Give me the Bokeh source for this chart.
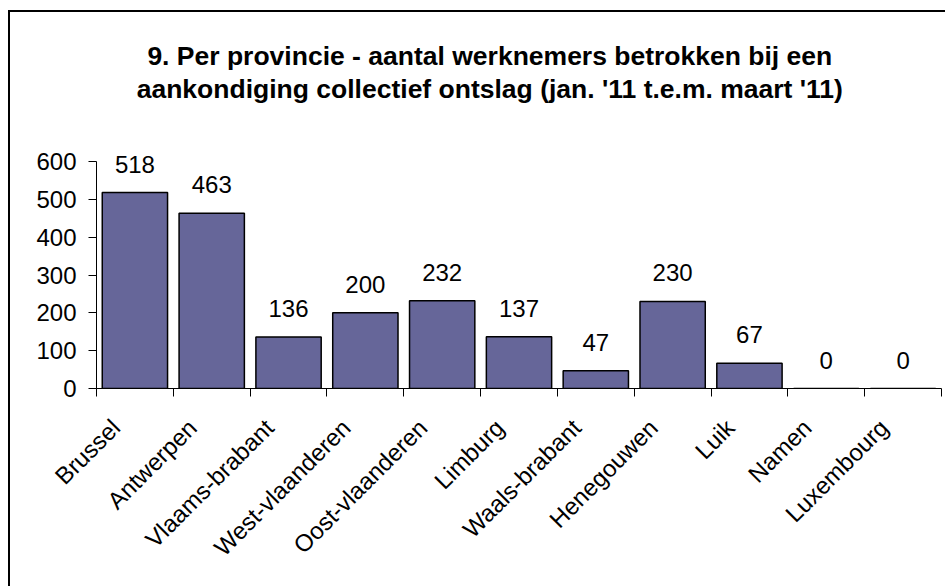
import math
from bokeh.plotting import figure
from bokeh.models import Range1d, FixedTicker, ColumnDataSource, LabelSet, Label
from bokeh.core.properties import value
from bokeh.embed import file_html
from bokeh.resources import INLINE

provinces = ["Brussel", "Antwerpen", "Vlaams-brabant", "West-vlaanderen",
             "Oost-vlaanderen", "Limburg", "Waals-brabant", "Henegouwen",
             "Luik", "Namen", "Luxembourg"]
workers = [518, 463, 136, 200, 232, 137, 47, 230, 67, 0, 0]
y_ticks = [0, 100, 200, 300, 400, 500, 600]
title_lines = ["9. Per provincie - aantal werknemers betrokken bij een",
               "aankondiging collectief ontslag (jan. '11 t.e.m. maart '11)"]

FONT = "Liberation Sans"
n = len(provinces)
xc = [i + 0.5 for i in range(n)]
src = ColumnDataSource(dict(x=xc, top=workers, lbl=[str(v) for v in workers]))

p = figure(width=937, height=576, title=None,
           x_range=Range1d(0, n), y_range=Range1d(0, 994),
           output_backend="svg", toolbar_location=None,
           min_border_left=86, min_border_right=6,
           min_border_top=0, min_border_bottom=200,
           styles={"border-left": "2px solid black",
                   "border-top": "2px solid black",
                   "margin-top": "10px", "margin-left": "8px"})
p.outline_line_color = None
p.background_fill_color = "white"
p.border_fill_color = "white"
p.xgrid.visible = False
p.ygrid.visible = False

p.vbar(x="x", top="top", width=0.85, source=src,
       fill_color="#666699", line_color="black", line_width=1.5)

# y axis
ya = p.yaxis[0]
ya.ticker = FixedTicker(ticks=y_ticks)
ya.bounds = (0, 600)
ya.major_tick_out = 8
ya.major_tick_in = 0
ya.minor_tick_line_color = None
ya.major_label_standoff = 12
ya.major_label_text_font = FONT
ya.major_label_text_font_size = "24px"
ya.major_label_text_color = "black"
ya.axis_line_color = "black"
ya.major_tick_line_color = "black"

# x axis: boundary ticks as minor ticks, labels at (shifted) centers
lab_pos = [i + 0.25 for i in range(n)]
xa = p.xaxis[0]
xa.ticker = FixedTicker(ticks=lab_pos, minor_ticks=list(range(n + 1)))
xa.major_label_overrides = {pos: name for pos, name in zip(lab_pos, provinces)}
xa.major_tick_line_color = None
xa.major_tick_out = 0
xa.major_tick_in = 0
xa.minor_tick_out = 8
xa.minor_tick_in = 0
xa.minor_tick_line_color = "black"
xa.axis_line_color = "black"
xa.major_label_orientation = math.pi / 4
xa.major_label_standoff = 27
xa.major_label_text_font = FONT
xa.major_label_text_font_size = "24px"
xa.major_label_text_color = "black"

# value labels
p.add_layout(LabelSet(x="x", y="top", text="lbl", source=src,
                      text_align="center", text_baseline="alphabetic",
                      y_offset=20, text_font=value(FONT),
                      text_font_size=value("24px"), text_color="black"))

# title (two centred lines)
for txt, yv in zip(title_lines, [880, 793]):
    p.add_layout(Label(x=5.12, y=yv, text=txt, text_align="center",
                       text_baseline="alphabetic", text_font=FONT,
                       text_font_size="26.5px", text_font_style="bold",
                       text_color="black"))

open("out.html", "w").write(file_html(p, INLINE))
